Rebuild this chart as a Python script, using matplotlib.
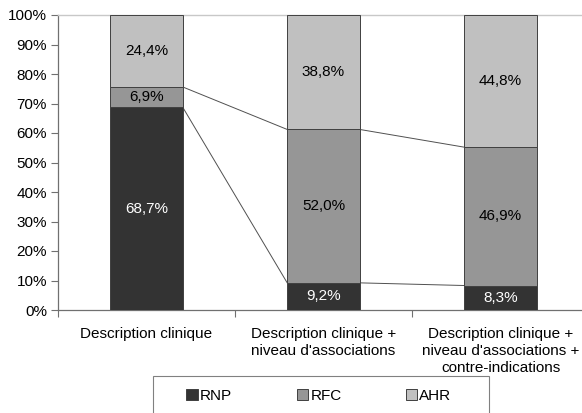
import matplotlib
matplotlib.use("Agg")
import matplotlib.pyplot as plt
from matplotlib.patches import Rectangle
import numpy as np

plt.rcParams['font.family'] = ['Liberation Sans', 'DejaVu Sans']

categories = ["Description clinique",
              "Description clinique +\nniveau d'associations",
              "Description clinique +\nniveau d'associations +\ncontre-indications"]
series_names = ["RNP", "RFC", "AHR"]
rnp = [68.7, 9.2, 8.3]
rfc = [6.9, 52.0, 46.9]
ahr = [24.4, 38.8, 44.8]
yticks = [0, 10, 20, 30, 40, 50, 60, 70, 80, 90, 100]

colors = ["#333333", "#969696", "#c0c0c0"]
text_colors = ["white", "black", "black"]

W, H = 582, 413
fig = plt.figure(figsize=(W/100, H/100), dpi=100)
ax = fig.add_axes([58/W, 1-310/H, 531/W, 295/H])

x = np.arange(len(categories))
w = 0.41
data = [rnp, rfc, ahr]
bottom = np.zeros(len(categories))
bars = []
for vals, c, tc, name in zip(data, colors, text_colors, series_names):
    vals = np.array(vals)
    b = ax.bar(x, vals, w, bottom=bottom, color=c, edgecolor="#404040",
               linewidth=0.7, label=name, zorder=3)
    bars.append(b)
    for xi, v, bt in zip(x, vals, bottom):
        ax.text(xi, bt + v/2, f"{v:.1f}%".replace(".", ","), ha="center",
                va="center", color=tc, fontsize=11, zorder=4)
    bottom = bottom + vals

# series lines
cum = np.cumsum(np.array(data), axis=0)
for level in cum[:-1]:
    for i in range(len(categories)-1):
        ax.plot([x[i] + w/2, x[i+1] - w/2], [level[i], level[i+1]],
                color="#505050", linewidth=0.7, zorder=2)

ax.set_xlim(-0.5, len(categories) - 0.5)
ax.set_ylim(0, 100)
ax.set_yticks(yticks)
ax.set_yticklabels([f"{t}%" for t in yticks], fontsize=11)
ax.set_xticks(x)
ax.set_xticklabels(categories, fontsize=11, linespacing=1.3, va="top")
ax.tick_params(axis='x', length=0, pad=12)
ax.set_xticks(np.arange(len(categories)+1) - 0.5, minor=True)
ax.tick_params(axis='x', which='minor', length=5, color="#707070", width=0.8)
ax.tick_params(axis='y', length=5, color="#707070", width=0.8, pad=3)
for s in ['left', 'bottom']:
    ax.spines[s].set_color("#707070")
    ax.spines[s].set_linewidth(0.9)
ax.spines['top'].set_color("#c8c8c8")
ax.spines['top'].set_linewidth(1.0)
ax.spines['right'].set_visible(False)

# legend frame
frame = Rectangle((153/W, -0.05), (489-153)/W, 0.05 + 1-376/H,
                  transform=fig.transFigure, facecolor="none",
                  edgecolor="#808080", linewidth=0.8)
fig.patches.append(frame)
leg = fig.legend(handles=bars, labels=series_names, loc="center",
                 bbox_to_anchor=(319/W, 1-396/H), ncol=3, frameon=False,
                 fontsize=11, handlelength=0.75, handleheight=0.75,
                 handletextpad=0.15, columnspacing=4.2, borderpad=0)

fig.savefig("out.png", dpi=100)
